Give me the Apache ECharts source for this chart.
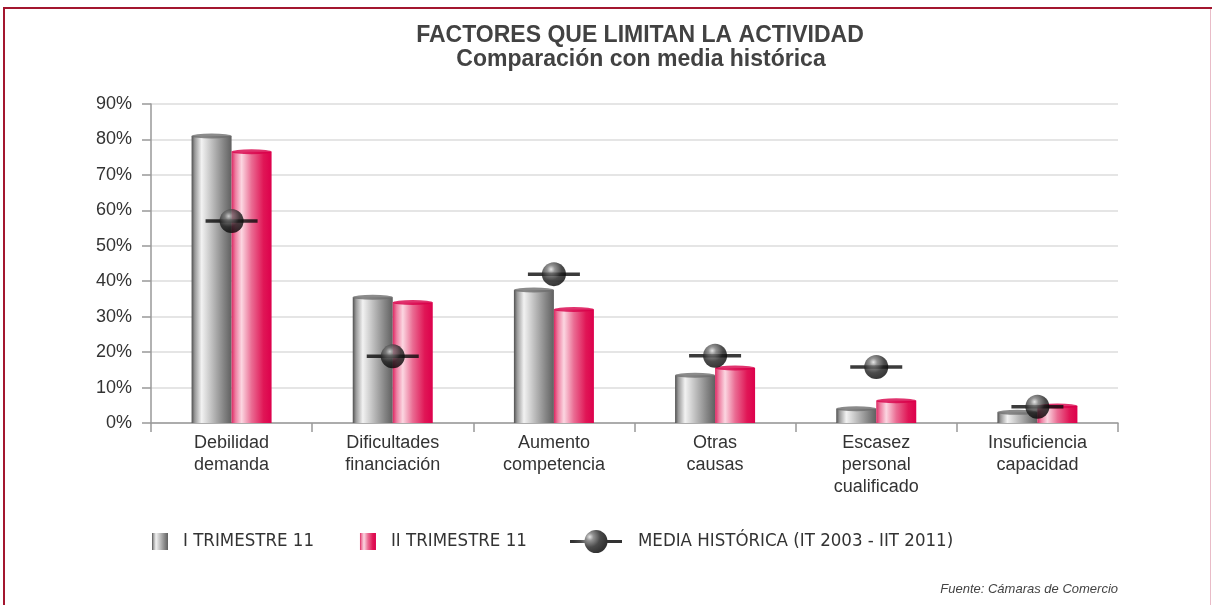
<!DOCTYPE html>
<html>
<head>
<meta charset="utf-8">
<script src="https://cdn.jsdelivr.net/npm/echarts@6/dist/echarts.min.js"></script>
<style>html,body{margin:0;padding:0;background:#fff;}#c{width:1212px;height:605px;}</style>
</head>
<body>
<div id="c"></div>
<script>
const categories = ['Debilidad\ndemanda', 'Dificultades\nfinanciación', 'Aumento\ncompetencia', 'Otras\ncausas', 'Escasez\npersonal\ncualificado', 'Insuficiencia\ncapacidad'];
const trimestre1 = [81, 35.5, 37.5, 13.5, 4, 3];
const trimestre2 = [76.5, 34, 32, 15.5, 6.3, 4.8];
const mediaHistorica = [57, 18.8, 42, 19, 15.8, 4.6];
const yTicks = [0, 10, 20, 30, 40, 50, 60, 70, 80, 90];

const FONT = "'Liberation Sans', Arial, sans-serif";
// detect a narrow font for the legend
function hasFont(name) {
  const c = document.createElement('canvas').getContext('2d');
  const s = 'MEDIA HISTÓRICA (IT 2003 - IIT 2011)';
  c.font = "20px monospace"; const a = c.measureText(s).width;
  c.font = "20px '" + name + "', monospace"; const b = c.measureText(s).width;
  return Math.abs(a - b) > 1;
}
let LFONT = FONT, LSIZE = 16;
if (hasFont('Liberation Sans Narrow')) { LFONT = "'Liberation Sans Narrow', " + FONT; LSIZE = 19; }
else if (hasFont('DejaVu Sans Condensed')) { LFONT = "'DejaVu Sans Condensed', " + FONT; LSIZE = 18.5; }

const chart = echarts.init(document.getElementById('c'), null, {renderer: 'canvas'});

const grayGrad = new echarts.graphic.LinearGradient(0, 0, 1, 0, [
  {offset: 0, color: '#505050'},
  {offset: 0.08, color: '#999'},
  {offset: 0.25, color: '#f2f2f2'},
  {offset: 0.5, color: '#c0c0c0'},
  {offset: 0.8, color: '#858585'},
  {offset: 1, color: '#606060'}
]);
const pinkGrad = new echarts.graphic.LinearGradient(0, 0, 1, 0, [
  {offset: 0, color: '#dd2863'},
  {offset: 0.1, color: '#ee7fa2'},
  {offset: 0.25, color: '#fbd6e1'},
  {offset: 0.5, color: '#ea6c93'},
  {offset: 0.8, color: '#e01656'},
  {offset: 1, color: '#dd004c'}
]);
const ballGrad = new echarts.graphic.RadialGradient(0.38, 0.3, 0.75, [
  {offset: 0, color: '#e0e0e0'},
  {offset: 0.22, color: '#777'},
  {offset: 0.6, color: '#1e1e1e'},
  {offset: 1, color: '#000'}
]);

const option = {
  backgroundColor: '#fff',
  animation: false,
  title: [
    {text: 'FACTORES QUE LIMITAN LA ACTIVIDAD', left: 635, textAlign: 'center', top: 19,
     textStyle: {fontFamily: FONT, fontSize: 23, fontWeight: 'bold', color: '#424242'}},
    {text: 'Comparación con media histórica', left: 636, textAlign: 'center', top: 43,
     textStyle: {fontFamily: FONT, fontSize: 23, fontWeight: 'bold', color: '#424242'}}
  ],
  grid: {left: 151, right: 94, top: 104, bottom: 182, containLabel: false},
  legend: [
    {data: ['I TRIMESTRE 11', 'II TRIMESTRE 11'], left: 147, top: 527, itemWidth: 16, itemHeight: 17,
     itemGap: 46, icon: 'rect', textStyle: {fontFamily: LFONT, fontSize: LSIZE, color: '#333', padding: [0, 0, 0, 10]}},
    {data: [{name: 'MEDIA HISTÓRICA (IT 2003 - IIT 2011)',
             icon: 'path://M0,10.5 L52,10.5 L52,13.5 L0,13.5 Z M26,0.5 A11.5,11.5 0 1 1 25.99,0.5 Z'}],
     left: 565, top: 525, itemWidth: 52, itemHeight: 23,
     textStyle: {fontFamily: LFONT, fontSize: LSIZE, color: '#333', padding: [0, 0, 0, 11]}}
  ],
  xAxis: {
    type: 'category', data: categories,
    axisLine: {lineStyle: {color: '#999', width: 1.5}},
    axisTick: {show: true, length: 9, lineStyle: {color: '#999', width: 1.5}},
    axisLabel: {fontFamily: FONT, fontSize: 18, color: '#333', lineHeight: 22, margin: 9}
  },
  yAxis: {
    type: 'value', min: 0, max: 90, interval: 10,
    axisLine: {show: true, lineStyle: {color: '#999', width: 1.5}},
    axisTick: {show: true, inside: false, length: 9, lineStyle: {color: '#999', width: 1.5}},
    splitLine: {lineStyle: {color: '#dcdcdc', width: 1.5}},
    axisLabel: {fontFamily: FONT, fontSize: 18, color: '#333', margin: 19,
      formatter: v => yTicks.includes(v) ? v + '%' : ''}
  },
  series: [
    {name: 'I TRIMESTRE 11', type: 'bar', data: trimestre1, barWidth: 40, barGap: '0%',
     itemStyle: {color: grayGrad}, z: 2},
    {name: 'II TRIMESTRE 11', type: 'bar', data: trimestre2, barWidth: 40, barGap: '0%',
     itemStyle: {color: pinkGrad}, z: 2},
    {name: 'cap1', type: 'scatter', data: trimestre1, symbol: 'circle', symbolSize: [40, 5],
     symbolOffset: [-20, 0], itemStyle: {color: '#6e6e6e'}, z: 3, silent: true},
    {name: 'cap2', type: 'scatter', data: trimestre2, symbol: 'circle', symbolSize: [40, 5],
     symbolOffset: [20, 0], itemStyle: {color: '#d8004a'}, z: 3, silent: true},
    {name: 'mediaLine', type: 'scatter', data: mediaHistorica, symbol: 'rect', symbolSize: [52, 3.5],
     itemStyle: {color: '#0a0a0a'}, z: 4, silent: true},
    {name: 'MEDIA HISTÓRICA (IT 2003 - IIT 2011)', type: 'scatter', data: mediaHistorica,
     symbol: 'circle', symbolSize: 24, itemStyle: {color: ballGrad}, z: 5}
  ],
  graphic: [
    {type: 'rect', shape: {x: 3, y: 7, width: 1209, height: 2}, style: {fill: '#a3162f'}},
    {type: 'rect', shape: {x: 3, y: 7, width: 2, height: 598}, style: {fill: '#a3162f'}},
    {type: 'rect', shape: {x: 1210, y: 9, width: 1, height: 596}, style: {fill: '#e9bcc8'}},
    {type: 'text', right: 94, top: 583, style: {text: 'Fuente: Cámaras de Comercio',
      font: "italic 13px " + FONT, fill: '#444'}}
  ]
};
chart.setOption(option);
</script>
</body>
</html>
